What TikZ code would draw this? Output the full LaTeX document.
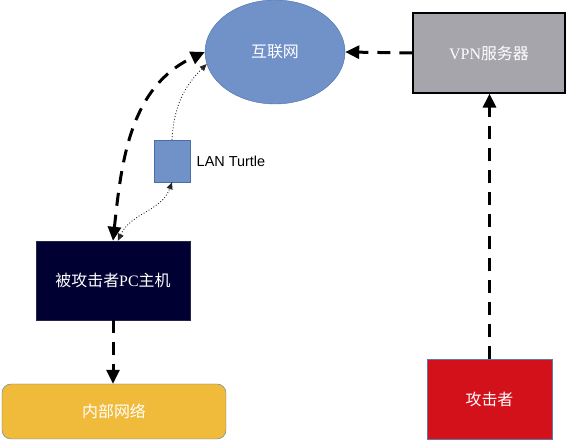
\documentclass[tikz,border=0pt]{standalone}
\usepackage{fontspec}
\setmainfont{Liberation Serif}
\newfontfamily\cjk{Noto Sans CJK SC}
\newfontfamily\arialfont{Liberation Sans}
\newcommand{\zh}[1]{{\cjk #1}}
\usepackage{tikz}
\usetikzlibrary{shapes,arrows.meta}
\definecolor{netblue}{HTML}{7092C9}
\definecolor{netedge}{HTML}{4A6FA5}
\definecolor{vpngray}{HTML}{A7A5AC}
\definecolor{pcnavy}{HTML}{000033}
\definecolor{atkred}{HTML}{D3111A}
\definecolor{langold}{HTML}{F0BA3A}
\definecolor{boxedge}{HTML}{5B7BA8}

\begin{document}
\begin{tikzpicture}[x=1bp,y=1bp,
		box/.style={rectangle, draw, inner sep=2bp, text=white, font=\fontsize{16}{19}\selectfont},
		link/.style={line width=3bp, dash pattern=on 13bp off 9bp, >={Triangle[length=14bp,width=13bp]}},
		thinlink/.style={dotted, line width=0.9bp, black!85, >={Triangle[length=7bp,width=6bp]}}]
		\useasboundingbox (0,0) rectangle (566,440);
		% nodes
		\node[box, ellipse, fill=netblue, draw=netedge, minimum width=140bp, minimum height=104bp] (net) at (275,388) {\zh{互联网}};
		\node[box, fill=vpngray, draw=black, line width=1.2bp, minimum width=152bp, minimum height=80bp] (vpn) at (489,387) {VPN\zh{服务器}};
		\node[rectangle, draw=netedge, fill=netblue, minimum width=36bp, minimum height=42bp] (turtle) at (172,279) {};
		\node[right=3bp, font=\arialfont\fontsize{14.5}{17}\selectfont] (turtlelabel) at (turtle.east) {LAN Turtle};
		\node[box, fill=pcnavy, draw=pcnavy!70!gray, minimum width=154bp, minimum height=79bp] (pc) at (113,159.5) {\zh{被攻击者}PC\zh{主机}};
		\node[box, fill=langold, draw=boxedge, rounded corners=9bp, minimum width=224bp, minimum height=55bp] (lan) at (114,28.5) {\zh{内部网络}};
		\node[box, fill=atkred, draw=boxedge, minimum width=125bp, minimum height=80bp] (atk) at (489.5,40.5) {\zh{攻击者}};
		% connectors
		\draw[link,->] (vpn.west) -- (net.east);
		\draw[link,->] (atk.north) -- (atk.north |- vpn.south);
		\draw[link,->] (pc.south) -- (pc.south |- lan.north);
		\draw[link,<->] (pc.north) to[out=84,in=205] (net.west);
		\draw[thinlink,->] (turtle.north) to[out=87,in=225] (net.190);
		\draw[thinlink,<->] (pc.83) to[out=65,in=250] (turtle.south);
	\end{tikzpicture}
\end{document}
